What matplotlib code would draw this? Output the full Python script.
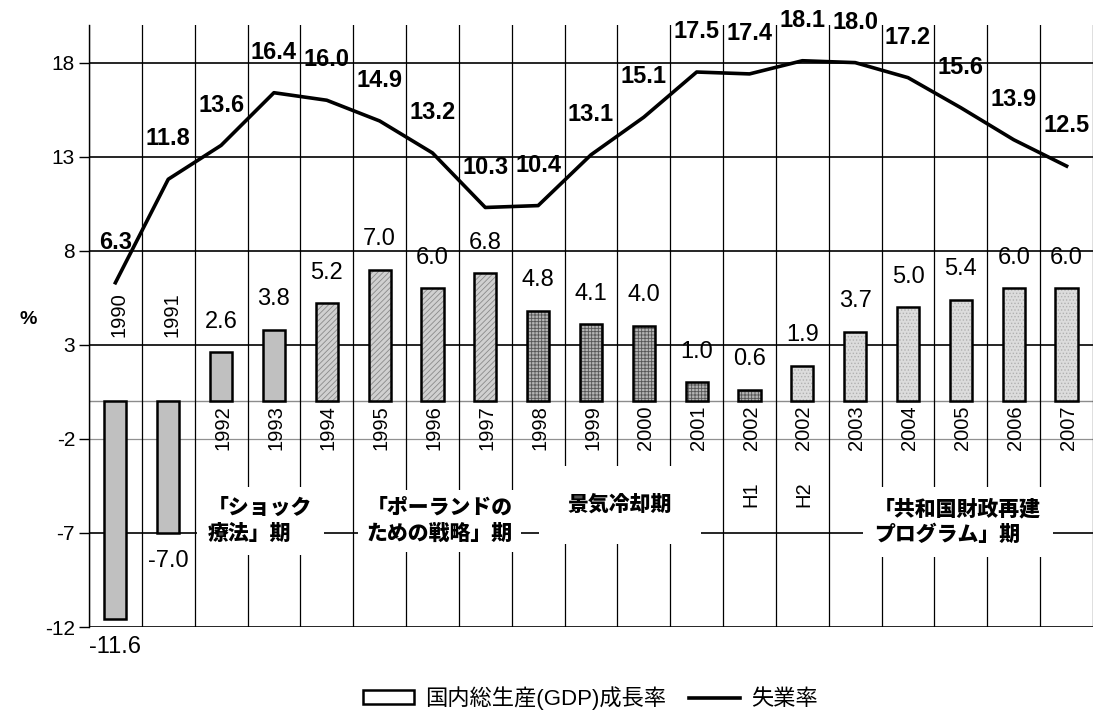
import matplotlib.pyplot as plt
import matplotlib.patches as mpatches
import matplotlib.lines as mlines
import numpy as np

plt.rcParams['font.family'] = ['Liberation Sans', 'Noto Sans CJK JP', 'DejaVu Sans']
plt.rcParams['hatch.linewidth'] = 0.6
plt.rcParams['axes.unicode_minus'] = False

years = ['1990', '1991', '1992', '1993', '1994', '1995', '1996', '1997', '1998', '1999',
         '2000', '2001', '2002', '2002', '2003', '2004', '2005', '2006', '2007']
halves = ['', '', '', '', '', '', '', '', '', '', '', '', 'H1', 'H2', '', '', '', '', '']
gdp = [-11.6, -7.0, 2.6, 3.8, 5.2, 7.0, 6.0, 6.8, 4.8, 4.1, 4.0, 1.0, 0.6, 1.9,
       3.7, 5.0, 5.4, 6.0, 6.0]
unemp = [6.3, 11.8, 13.6, 16.4, 16.0, 14.9, 13.2, 10.3, 10.4, 13.1, 15.1, 17.5, 17.4,
         18.1, 18.0, 17.2, 15.6, 13.9, 12.5]
# fill style group per bar (policy periods)
groups = [0, 0, 0, 0, 1, 1, 1, 1, 2, 2, 2, 2, 2, 3, 3, 3, 3, 3, 3]
yticks = [-12, -7, -2, 3, 8, 13, 18]

styles = {
    0: dict(color='#c0c0c0', hatch=None, hc='#c0c0c0'),
    1: dict(color='#d0d0d0', hatch='//////', hc='#8a8a8a'),
    2: dict(color='#b4b4b4', hatch='+++++', hc='#555555'),
    3: dict(color='#dcdcdc', hatch='.....', hc='#b0b0b0'),
}

fig = plt.figure(figsize=(10.93, 7.10), dpi=100)
ax = fig.add_axes([0.0814, 0.1169, 0.9186, 0.8479])
x = np.arange(len(years))

ax.set_xlim(-0.5, len(years) - 0.5)
ax.set_ylim(-12, 20)

# grid
for yv in yticks:
    c = '#909090' if yv == -2 else 'black'
    ax.axhline(yv, color=c, lw=1.2 if yv != -2 else 0.9, zorder=1)
ax.axhline(0, color='#8c8c8c', lw=1.0, zorder=1)
for b in np.arange(-0.5, len(years)):
    ax.axvline(b, color='black', lw=0.9, zorder=1)

# bars
w = 0.42
for i in range(len(years)):
    st = styles[groups[i]]
    ax.bar(x[i], gdp[i], width=w, color=st['color'], hatch=st['hatch'],
           edgecolor=st['hc'], lw=0, zorder=2)
ax.bar(x, gdp, width=w, facecolor='none', edgecolor='black', lw=1.8, zorder=3)

# bar labels
for i, v in enumerate(gdp):
    off = 22 if v >= 0 else -20
    ax.annotate(f'{v:.1f}', (x[i], v), xytext=(0, off), textcoords='offset points',
                ha='center', va='center', fontsize=17)

# year labels
for i, v in enumerate(gdp):
    if v < 0:
        ax.text(x[i] + 0.07, 3.4, years[i], rotation=90, ha='center', va='bottom', fontsize=14.5)
    else:
        ax.annotate(years[i], (x[i] + 0.03, 0), xytext=(0, -3), textcoords='offset points',
                    rotation=90, ha='center', va='top', fontsize=14.5)
    if halves[i]:
        ax.text(x[i] + 0.03, -4.95, halves[i], rotation=90, ha='center', va='center', fontsize=14.5)

# unemployment line
ax.plot(x, unemp, color='black', lw=2.6, zorder=4)
for i, v in enumerate(unemp):
    ax.annotate(f'{v:.1f}', (x[i], v), xytext=(0, 29), textcoords='offset points',
                ha='center', va='center', fontsize=17, fontweight='bold')

# period boxes
box_kw = dict(ha='center', va='center', fontsize=15, fontweight='heavy', linespacing=1.35,
              multialignment='left', zorder=5, family=['Noto Sans CJK JP'])
ax.text(2.74, -6.36, '「ショック\n療法」期',
        bbox=dict(facecolor='white', edgecolor='none', boxstyle='square,pad=0.55'), **box_kw)
ax.text(6.14, -6.36, '「ポーランドの\nための戦略」期',
        bbox=dict(facecolor='white', edgecolor='none', boxstyle='square,pad=0.4'), **box_kw)
ax.text(9.55, -5.51, '景気冷却期',
        bbox=dict(facecolor='white', edgecolor='none', boxstyle='square,pad=1.4'), **box_kw)
ax.text(15.94, -6.41, '「共和国財政再建\nプログラム」期',
        bbox=dict(facecolor='white', edgecolor='none', boxstyle='square,pad=0.55'), **box_kw)

# axes styling
for s in ['top', 'right', 'bottom']:
    ax.spines[s].set_visible(False)
ax.spines['left'].set_color('black')
ax.spines['left'].set_linewidth(1.0)
ax.set_yticks(yticks)
ax.set_yticklabels([str(t) for t in yticks], fontsize=15)
ax.set_xticks([])
ax.tick_params(axis='y', length=7, width=1, pad=3)

fig.text(0.026, 0.55, '%', fontsize=14, fontweight='bold', ha='center', va='center')

handles = [mpatches.Patch(facecolor='white', edgecolor='black', lw=1.8),
           mlines.Line2D([], [], color='black', lw=2.6)]
fig.legend(handles, ['国内総生産(GDP)成長率', '失業率'], loc='center',
           bbox_to_anchor=(0.54, 0.017), ncol=2, frameon=False, fontsize=16,
           handlelength=2.3, handleheight=0.55, columnspacing=1.0, handletextpad=0.5)

fig.savefig('out.png', dpi=100)
